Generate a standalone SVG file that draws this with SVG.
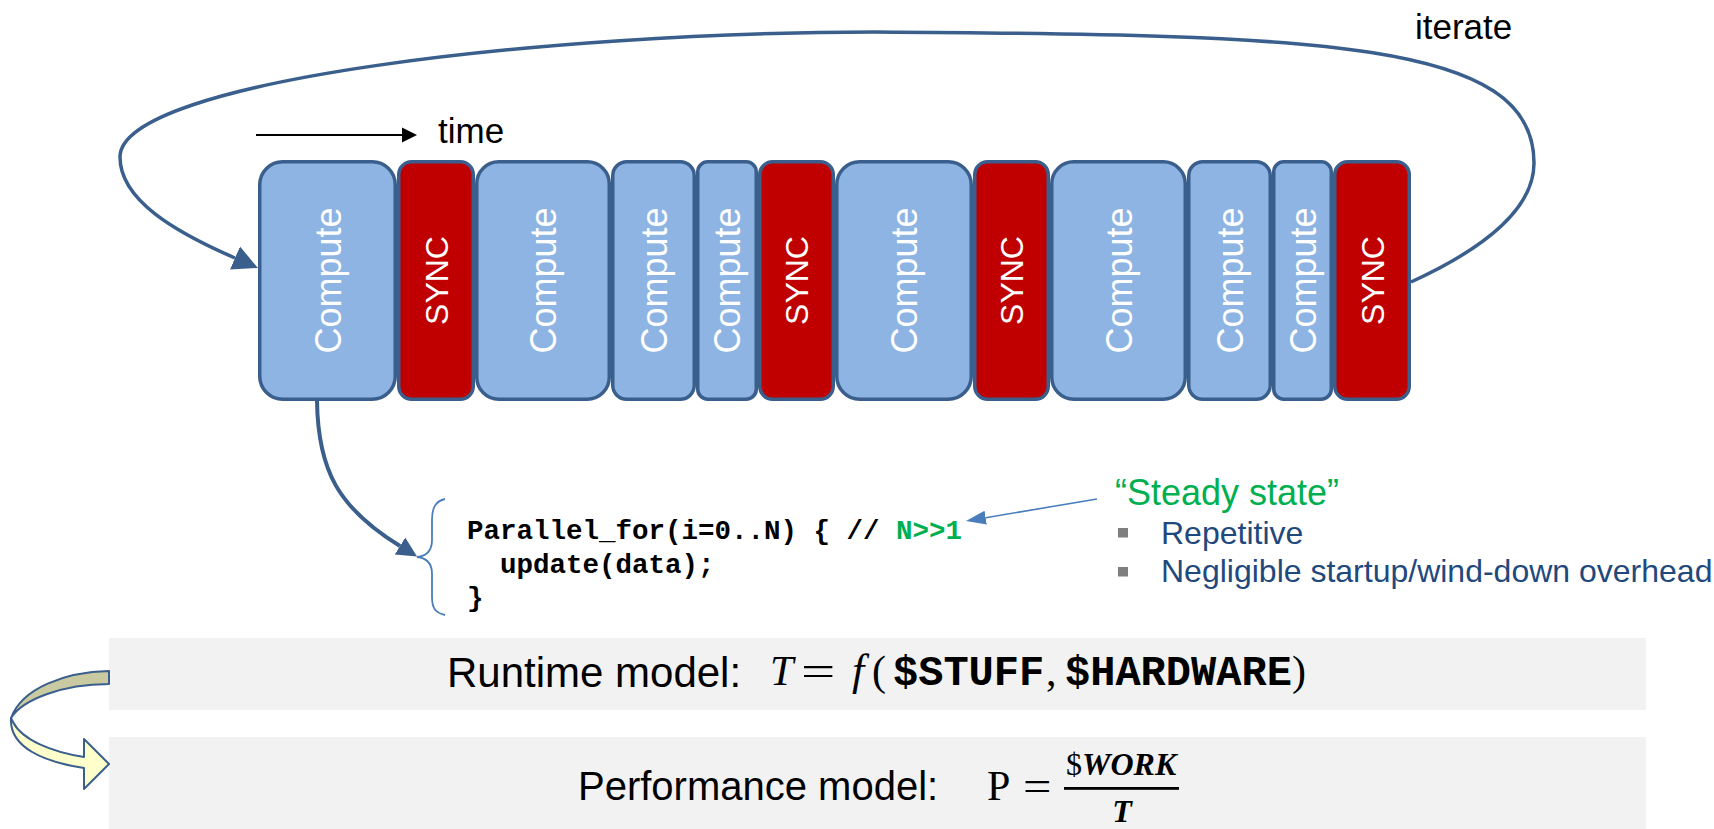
<svg xmlns="http://www.w3.org/2000/svg" width="1714" height="829" viewBox="0 0 1714 829">
  <style>
    .sans { font-family: "Liberation Sans", Arial, sans-serif; }
    .mono { font-family: "Liberation Mono", "Courier New", monospace; font-weight: bold; }
    .serif { font-family: "Liberation Serif", "Times New Roman", serif; }
    .compute rect { fill: #8eb4e3; stroke: #3a5f8c; stroke-width: 3.5; }
    .sync rect { fill: #c00000; stroke: #3a5f8c; stroke-width: 3.5; }
    .compute text { font-family: "Liberation Sans", Arial, sans-serif; font-size: 36px; fill: #ffffff; text-anchor: middle; }
    .sync text { font-family: "Liberation Sans", Arial, sans-serif; font-size: 32px; fill: #ffffff; text-anchor: middle; }
    .band { fill: #f2f2f2; }
    .note { font-size: 32px; fill: #1f497d; }
    .bullet { fill: #7f7f7f; }
  </style>
  <defs>
    <marker id="headLoop" viewBox="0 -13 26 26" markerWidth="26" markerHeight="26" refX="0" refY="0" orient="auto" markerUnits="userSpaceOnUse">
      <path d="M0,-12.5 L25,0 L0,12.5 Z" fill="#3a5f8c"/>
    </marker>
    <marker id="headCode" viewBox="0 -11 21 22" markerWidth="21" markerHeight="22" refX="0" refY="0" orient="auto" markerUnits="userSpaceOnUse">
      <path d="M0,-10 L20,0 L0,10 Z" fill="#3a5f8c"/>
    </marker>
    <marker id="headNote" viewBox="0 -8 21 16" markerWidth="21" markerHeight="16" refX="0" refY="0" orient="auto" markerUnits="userSpaceOnUse">
      <path d="M0,-7 L20,0 L0,7 Z" fill="#4a7ebb"/>
    </marker>
    <marker id="headTime" viewBox="0 -8 16 16" markerWidth="16" markerHeight="16" refX="0" refY="0" orient="auto" markerUnits="userSpaceOnUse">
      <path d="M0,-7.5 L15,0 L0,7.5 Z" fill="#000000"/>
    </marker>
  </defs>

  <rect width="1714" height="829" fill="#ffffff"/>

  <!-- model bands -->
  <g id="runtime-model">
    <rect class="band" x="109" y="638" width="1537" height="72"/>
    <text class="sans" x="447" y="686.5" font-size="42">Runtime model:</text>
    <text class="serif" x="770" y="685" font-size="42" font-style="italic">T</text>
    <text class="serif" transform="translate(801,685) scale(1.45,1)" x="0" y="0" font-size="42">=</text>
    <text class="serif" x="852" y="685" font-size="44" font-style="italic">f</text>
    <text class="serif" x="872" y="685" font-size="42">(</text>
    <text class="mono" x="893" y="685" font-size="42">$STUFF</text>
    <text class="serif" x="1046" y="685" font-size="42">,</text>
    <text class="mono" x="1065" y="685" font-size="42">$HARDWARE</text>
    <text class="serif" x="1292" y="685" font-size="42">)</text>
  </g>

  <g id="performance-model">
    <rect class="band" x="109" y="737" width="1537" height="92"/>
    <text class="sans" x="578" y="800" font-size="40">Performance model:</text>
    <text class="serif" x="987" y="800" font-size="42">P</text>
    <text class="serif" transform="translate(1023,800) scale(1.2,1)" x="0" y="0" font-size="42">=</text>
    <text class="serif" x="1066" y="775" font-size="32">$</text>
    <text class="serif" x="1082" y="775" font-size="32" font-weight="bold" font-style="italic">WORK</text>
    <rect x="1064" y="787" width="115" height="2.8" fill="#000000"/>
    <text class="serif" x="1122" y="821.5" font-size="32" font-weight="bold" font-style="italic" text-anchor="middle">T</text>
  </g>

  <!-- timeline blocks -->
  <g id="compute-1" class="compute">
    <rect x="259.75" y="161.75" width="135.5" height="237.5" rx="23"/>
    <text transform="translate(327.5,280.5) rotate(-90)" x="0" y="13">Compute</text>
  </g>
  <g id="sync-1" class="sync">
    <rect x="398.75" y="161.75" width="74.5" height="237.5" rx="13"/>
    <text transform="translate(436,280.5) rotate(-90)" x="0" y="11.5">SYNC</text>
  </g>
  <g id="compute-2" class="compute">
    <rect x="476.75" y="161.75" width="132.5" height="237.5" rx="22"/>
    <text transform="translate(543,280.5) rotate(-90)" x="0" y="13">Compute</text>
  </g>
  <g id="compute-3" class="compute">
    <rect x="612.75" y="161.75" width="81.5" height="237.5" rx="14"/>
    <text transform="translate(653.5,280.5) rotate(-90)" x="0" y="13">Compute</text>
  </g>
  <g id="compute-4" class="compute">
    <rect x="697.75" y="161.75" width="58.5" height="237.5" rx="10"/>
    <text transform="translate(727,280.5) rotate(-90)" x="0" y="13">Compute</text>
  </g>
  <g id="sync-2" class="sync">
    <rect x="759.75" y="161.75" width="73.5" height="237.5" rx="13"/>
    <text transform="translate(796.5,280.5) rotate(-90)" x="0" y="11.5">SYNC</text>
  </g>
  <g id="compute-5" class="compute">
    <rect x="836.75" y="161.75" width="134.5" height="237.5" rx="23"/>
    <text transform="translate(904,280.5) rotate(-90)" x="0" y="13">Compute</text>
  </g>
  <g id="sync-3" class="sync">
    <rect x="974.75" y="161.75" width="73.5" height="237.5" rx="13"/>
    <text transform="translate(1011.5,280.5) rotate(-90)" x="0" y="11.5">SYNC</text>
  </g>
  <g id="compute-6" class="compute">
    <rect x="1051.75" y="161.75" width="133.5" height="237.5" rx="22"/>
    <text transform="translate(1118.5,280.5) rotate(-90)" x="0" y="13">Compute</text>
  </g>
  <g id="compute-7" class="compute">
    <rect x="1188.75" y="161.75" width="81.5" height="237.5" rx="14"/>
    <text transform="translate(1229.5,280.5) rotate(-90)" x="0" y="13">Compute</text>
  </g>
  <g id="compute-8" class="compute">
    <rect x="1273.75" y="161.75" width="57.5" height="237.5" rx="10"/>
    <text transform="translate(1302.5,280.5) rotate(-90)" x="0" y="13">Compute</text>
  </g>
  <g id="sync-4" class="sync">
    <rect x="1334.75" y="161.75" width="74.5" height="237.5" rx="13"/>
    <text transform="translate(1372,280.5) rotate(-90)" x="0" y="11.5">SYNC</text>
  </g>

  <!-- labels -->
  <g id="label-time">
    <text class="sans" x="438" y="143" font-size="35">time</text>
  </g>
  <g id="label-iterate">
    <text class="sans" x="1415" y="39" font-size="35">iterate</text>
  </g>

  <!-- loop body code -->
  <g id="code">
    <path d="M445,499 C436,501 432,507 432,520 L432,540 C432,551 427,556 417,557 C427,558 432,563 432,574 L432,597 C432,609 436,613 445,615" fill="none" stroke="#4a7ebb" stroke-width="1.8"/>
    <text class="mono" x="467" y="539" font-size="27.5">Parallel_for(i=0..N) { // <tspan fill="#00b050">N&gt;&gt;1</tspan></text>
    <text class="mono" x="500" y="572.5" font-size="27.5">update(data);</text>
    <text class="mono" x="467" y="606" font-size="27.5">}</text>
  </g>

  <!-- steady state note -->
  <g id="steady-state">
    <text class="sans" x="1115" y="505" font-size="36" fill="#00b050">“Steady state”</text>
    <rect class="bullet" x="1118" y="528" width="10" height="9.5"/>
    <text class="sans note" x="1161" y="544">Repetitive</text>
    <rect class="bullet" x="1118" y="567" width="10" height="9.5"/>
    <text class="sans note" x="1161" y="581.5">Negligible startup/wind-down overhead</text>
  </g>

  <!-- connectors -->
  <g id="connectors" fill="none">
    <path id="time-arrow" d="M256,135 L402,135" stroke="#000000" stroke-width="2" marker-end="url(#headTime)"/>
    <path id="iterate-loop" d="M1411,282 C1470,255 1534,215 1534,163 C1534,40 1320,35 875,32 C550,32 120,80 120,157 C120,200 175,232 235,258" stroke="#3a5f8c" stroke-width="3.5" marker-end="url(#headLoop)"/>
    <path id="compute-to-code" d="M317,401 C318,470 338,508 400,546" stroke="#3a5f8c" stroke-width="4" marker-end="url(#headCode)"/>
    <path id="note-to-code" d="M1097,499 L985.7,517.7" stroke="#4a7ebb" stroke-width="1.6" marker-end="url(#headNote)"/>
    <g id="runtime-to-performance" stroke="#3a5f8c" stroke-width="2" stroke-linejoin="round">
      <path d="M109,671 C65,672 22,688 11,718 C22,700 62,684 109,684 Z" fill="#c9c9a2"/>
      <path d="M11,718 C9,748 45,762 84,768 L84,789 L109,764 L84,739 L84,757 C52,752 22,740 13,722 Z" fill="#ffffcc"/>
    </g>
  </g>
</svg>
